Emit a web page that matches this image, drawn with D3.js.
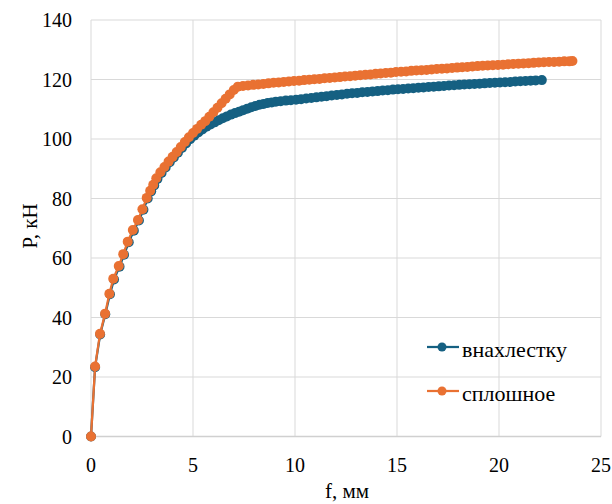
<!DOCTYPE html>
<html>
<head>
<meta charset="utf-8">
<script src="https://cdn.jsdelivr.net/npm/d3@7"></script>
</head>
<body style="margin:0">
<script>
// tick values
var xTicks = [0, 5, 10, 15, 20, 25];
var yTicks = [0, 20, 40, 60, 80, 100, 120, 140];

// series "внахлестку"
var fLap = [0, 0.2, 0.45, 0.7, 0.93, 1.13, 1.4, 1.62, 1.85, 2.1, 2.35, 2.57, 2.78, 2.95, 3.1, 3.26, 3.46, 3.66, 3.86, 4.06,
  4.26, 4.46, 4.66, 4.86, 5.06, 5.26, 5.46, 5.66, 5.86, 6.06, 6.26, 6.46, 6.66, 6.86, 7.06, 7.26, 7.46, 7.66, 7.86, 8.06,
  8.26, 8.46, 8.66, 8.86, 9.06, 9.3, 9.55, 9.8, 10.05, 10.3, 10.55, 10.8, 11.05, 11.3, 11.55, 11.8, 12.05, 12.3, 12.55, 12.8,
  13.05, 13.3, 13.55, 13.8, 14.05, 14.3, 14.55, 14.8, 15.05, 15.3, 15.55, 15.8, 16.05, 16.3, 16.55, 16.8, 17.05, 17.3, 17.55, 17.8,
  18.05, 18.3, 18.55, 18.8, 19.05, 19.3, 19.55, 19.8, 20.05, 20.3, 20.55, 20.8, 21.05, 21.3, 21.55, 21.8, 22.1];
var pLap = [0, 23.3, 34.3, 41.1, 47.8, 52.8, 57.1, 61.1, 65.3, 69.2, 72.6, 76.2, 80.0, 82.4, 84.4, 86.6, 88.6, 90.4, 92.2, 93.8,
  95.4, 97.0, 98.5, 99.9, 101.1, 102.2, 103.2, 104.1, 104.9, 105.6, 106.3, 107.0, 107.6, 108.2, 108.7, 109.2, 109.7, 110.2, 110.7, 111.1,
  111.5, 111.8, 112.1, 112.3, 112.5, 112.7, 112.9, 113.0, 113.2, 113.4, 113.6, 113.8, 114.0, 114.2, 114.4, 114.6, 114.8, 115.0, 115.2, 115.4,
  115.5, 115.7, 115.8, 116.0, 116.1, 116.3, 116.4, 116.6, 116.7, 116.8, 117.0, 117.1, 117.2, 117.3, 117.5, 117.6, 117.7, 117.8, 118.0, 118.1,
  118.2, 118.3, 118.4, 118.5, 118.6, 118.7, 118.8, 118.9, 119.0, 119.1, 119.2, 119.3, 119.4, 119.5, 119.6, 119.7, 119.8];

// series "сплошное"
var fSolid = [0, 0.2, 0.44, 0.69, 0.9, 1.09, 1.36, 1.58, 1.8, 2.05, 2.3, 2.52, 2.73, 2.9, 3.05, 3.2, 3.4, 3.6, 3.8, 4.0,
  4.2, 4.4, 4.6, 4.8, 5.0, 5.2, 5.4, 5.6, 5.8, 6.0, 6.2, 6.4, 6.6, 6.8, 7.0, 7.2, 7.45, 7.7, 7.95, 8.2,
  8.45, 8.7, 8.95, 9.2, 9.45, 9.7, 9.95, 10.2, 10.45, 10.7, 10.95, 11.2, 11.45, 11.7, 11.95, 12.2, 12.45, 12.7, 12.95, 13.2,
  13.45, 13.7, 13.95, 14.2, 14.45, 14.7, 14.95, 15.2, 15.45, 15.7, 15.95, 16.2, 16.45, 16.7, 16.95, 17.2, 17.45, 17.7, 17.95, 18.2,
  18.45, 18.7, 18.95, 19.2, 19.45, 19.7, 19.95, 20.2, 20.45, 20.7, 20.95, 21.2, 21.45, 21.7, 21.95, 22.2, 22.45, 22.7, 22.95, 23.2,
  23.45, 23.6];
var pSolid = [0, 23.5, 34.5, 41.3, 48, 53, 57.3, 61.3, 65.5, 69.4, 72.8, 76.4, 80.2, 82.6, 84.6, 86.8, 88.8, 90.6, 92.4, 94,
  95.6, 97.3, 99, 100.6, 102, 103.4, 104.8, 106, 107.5, 109, 110.5, 112, 113.5, 115, 116.5, 117.6, 117.8, 118.0, 118.2, 118.3,
  118.5, 118.7, 118.9, 119.0, 119.2, 119.3, 119.5, 119.6, 119.8, 119.9, 120.1, 120.2, 120.4, 120.5, 120.7, 120.8, 121.0, 121.1, 121.3, 121.4,
  121.6, 121.7, 121.9, 122.0, 122.2, 122.3, 122.5, 122.6, 122.7, 122.9, 123.0, 123.1, 123.2, 123.4, 123.5, 123.6, 123.7, 123.9, 124.0, 124.1,
  124.2, 124.4, 124.5, 124.6, 124.7, 124.8, 124.9, 125.0, 125.1, 125.2, 125.3, 125.4, 125.5, 125.6, 125.7, 125.8, 125.9, 125.9, 126.0, 126.1,
  126.1, 126.2];

var seriesNames = ["внахлестку", "сплошное"];
var seriesColors = ["#156082", "#E97132"];

var FONT = "'Times New Roman', 'Liberation Serif', Tinos, serif";

var w = 612, h = 504;
var m = {top: 20, right: 11, bottom: 67, left: 91};

var svg = d3.select("body").append("svg")
    .attr("width", w)
    .attr("height", h);

var x = d3.scaleLinear().domain([0, 25]).range([m.left, w - m.right]);
var y = d3.scaleLinear().domain([0, 140]).range([436.5, m.top]);

// gridlines
svg.append("g").selectAll("line")
    .data(yTicks)
    .enter().append("line")
    .attr("x1", x(0)).attr("x2", x(25))
    .attr("y1", function(d){ return y(d); })
    .attr("y2", function(d){ return y(d); })
    .attr("stroke", "#d9d9d9")
    .attr("stroke-width", 1);
svg.append("g").selectAll("line")
    .data(xTicks)
    .enter().append("line")
    .attr("y1", y(0)).attr("y2", y(140))
    .attr("x1", function(d){ return x(d); })
    .attr("x2", function(d){ return x(d); })
    .attr("stroke", "#d9d9d9")
    .attr("stroke-width", 1);
svg.append("line")
    .attr("x1", x(0)).attr("x2", x(25))
    .attr("y1", y(0)).attr("y2", y(0))
    .attr("stroke", "#d0d0d0").attr("stroke-width", 1.3);

var series = [
    d3.zip(fLap, pLap),
    d3.zip(fSolid, pSolid)
];

var line = d3.line()
    .x(function(d){ return x(d[0]); })
    .y(function(d){ return y(d[1]); });

series.forEach(function(s, i){
    var g = svg.append("g");
    g.append("path")
        .datum(s)
        .attr("d", line)
        .attr("fill", "none")
        .attr("stroke", seriesColors[i])
        .attr("stroke-width", 2.25);
    g.selectAll("circle")
        .data(s)
        .enter().append("circle")
        .attr("cx", function(d){ return x(d[0]); })
        .attr("cy", function(d){ return y(d[1]); })
        .attr("r", 5)
        .attr("fill", seriesColors[i]);
});

// tick labels
svg.append("g").selectAll("text")
    .data(xTicks)
    .enter().append("text")
    .attr("x", function(d){ return x(d); })
    .attr("y", y(0) + 35)
    .attr("text-anchor", "middle")
    .style("font-family", FONT)
    .style("font-size", "20px")
    .text(function(d){ return d; });
svg.append("g").selectAll("text")
    .data(yTicks)
    .enter().append("text")
    .attr("x", x(0) - 19)
    .attr("y", function(d){ return y(d) + 7; })
    .attr("text-anchor", "end")
    .style("font-family", FONT)
    .style("font-size", "20px")
    .text(function(d){ return d; });

// axis titles
svg.append("text")
    .attr("x", 347).attr("y", 498)
    .attr("text-anchor", "middle")
    .style("font-family", FONT)
    .style("font-size", "21px")
    .text("f, мм");
svg.append("text")
    .attr("transform", "translate(37,226) rotate(-90)")
    .attr("text-anchor", "middle")
    .style("font-family", FONT)
    .style("font-size", "21px")
    .text("P, кН");

// legend
var leg = svg.append("g")
    .selectAll("g")
    .data(seriesNames)
    .enter().append("g")
    .attr("transform", function(d, i){ return "translate(427," + (347 + i * 44) + ")"; });
leg.append("line")
    .attr("x1", 0).attr("x2", 32)
    .attr("stroke", function(d, i){ return seriesColors[i]; })
    .attr("stroke-width", 2.25);
leg.append("circle")
    .attr("cx", 15).attr("r", 4.5)
    .attr("fill", function(d, i){ return seriesColors[i]; });
leg.append("text")
    .attr("x", 35).attr("y", 10)
    .style("font-family", FONT)
    .style("font-size", "22px")
    .text(function(d){ return d; });
</script>
</body>
</html>
